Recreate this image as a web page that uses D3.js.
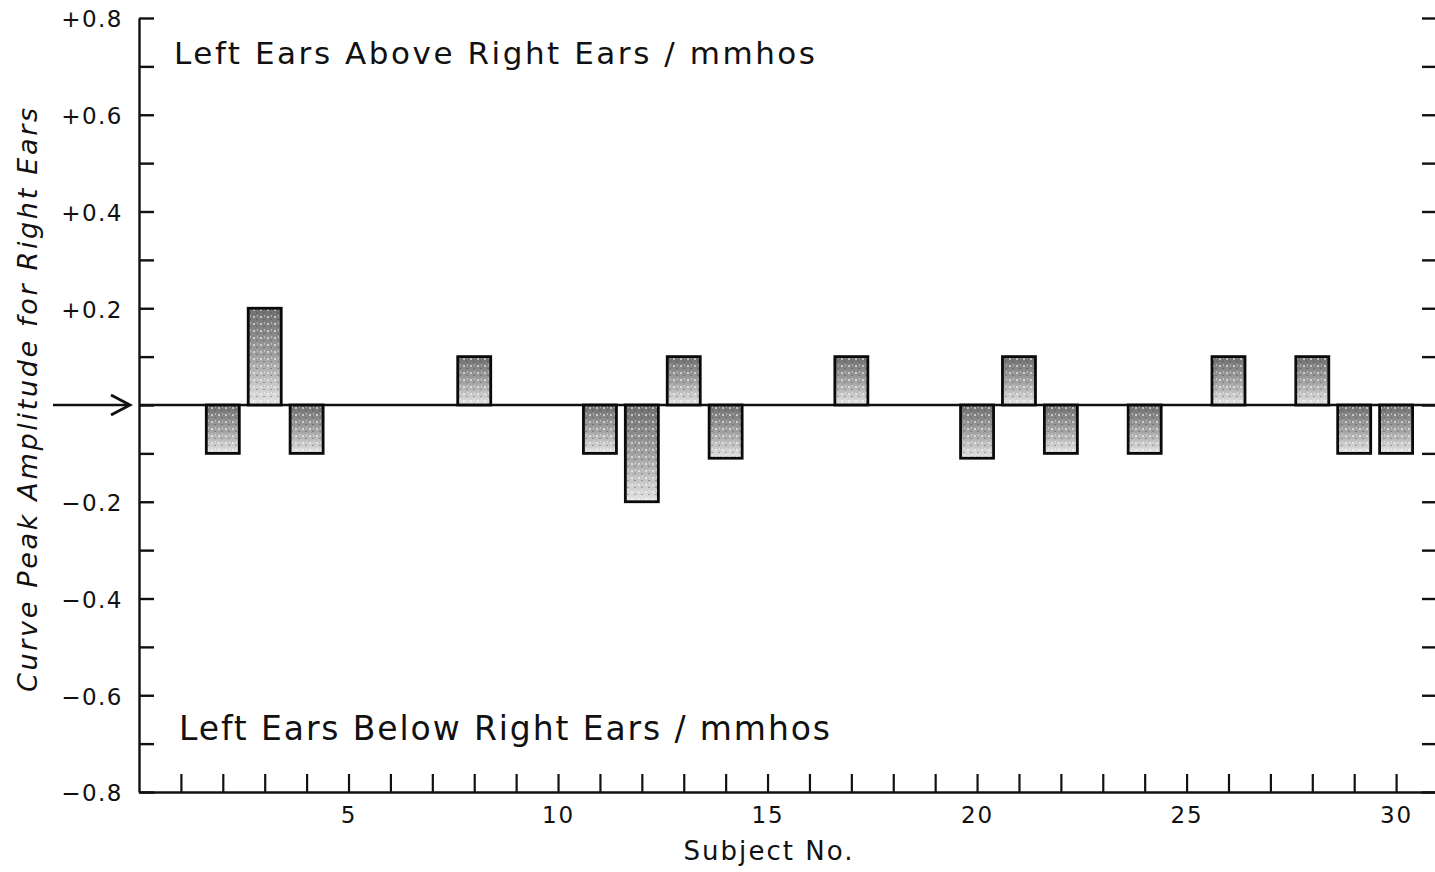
<!DOCTYPE html>
<html>
<head>
<meta charset="utf-8">
<script src="https://cdn.jsdelivr.net/npm/d3@7"></script>
<style>
  body { margin: 0; background: #fff; }
  svg { display: block; }
</style>
</head>
<body>
<div id="chart"></div>
<script>
// Dados
const subjects = d3.range(1, 31);
const differences = [
  0, -0.1, 0.2, -0.1, 0, 0, 0, 0.1, 0, 0,
  -0.1, -0.2, 0.1, -0.11, 0, 0, 0.1, 0, 0, -0.11,
  0.1, -0.1, 0, -0.1, 0, 0.1, 0, 0.1, -0.1, -0.1
];
const yTickValues = d3.range(-8, 9).map(d => d / 10);
const yLabelValues = [0.8, 0.6, 0.4, 0.2, -0.2, -0.4, -0.6, -0.8];
const yLabelTexts = ["+0.8", "+0.6", "+0.4", "+0.2", "\u22120.2", "\u22120.4", "\u22120.6", "\u22120.8"];
const xLabelValues = [5, 10, 15, 20, 25, 30];

const dados = subjects.map((s, i) => ({ subject: s, value: differences[i] }));

const largura = 1435;
const altura = 872;
const fonte = "'DejaVu Sans', sans-serif";

const svg = d3.select("#chart").append("svg")
  .attr("width", largura)
  .attr("height", altura);

// Textura das barras
const defs = svg.append("defs");
const grad = defs.append("linearGradient")
  .attr("id", "barGrad").attr("x1", 0).attr("y1", 0).attr("x2", 0).attr("y2", 1);
grad.append("stop").attr("offset", "0%").attr("stop-color", "#6e6e6e");
grad.append("stop").attr("offset", "55%").attr("stop-color", "#a6a6a6");
grad.append("stop").attr("offset", "100%").attr("stop-color", "#e4e4e4");

const pat = defs.append("pattern")
  .attr("id", "stipple").attr("width", 7).attr("height", 7)
  .attr("patternUnits", "userSpaceOnUse");
pat.append("rect").attr("x", 1).attr("y", 1).attr("width", 2).attr("height", 2).attr("fill", "#fff").attr("opacity", 0.55);
pat.append("rect").attr("x", 4).attr("y", 4).attr("width", 2).attr("height", 1).attr("fill", "#333").attr("opacity", 0.35);
pat.append("rect").attr("x", 5).attr("y", 0).attr("width", 1).attr("height", 2).attr("fill", "#fff").attr("opacity", 0.4);

// Escalas
const x = d3.scaleLinear().domain([0, 31]).range([139, 1438]);
const y = d3.scaleLinear().domain([-0.8, 0.8]).range([792, 18]);
const barW = 33;

// Eixo esquerdo
const yAxisLeft = svg.append("g")
  .attr("transform", "translate(139,0)")
  .call(d3.axisLeft(y)
    .tickValues(yTickValues)
    .tickSizeInner(-15).tickSizeOuter(0)
    .tickPadding(16)
    .tickFormat(v => {
      const i = yLabelValues.findIndex(l => Math.abs(l - v) < 1e-6);
      return i >= 0 ? yLabelTexts[i] : "";
    }));
yAxisLeft.selectAll("line").attr("stroke", "#111").attr("stroke-width", 2.4);
yAxisLeft.select(".domain").attr("stroke", "#111").attr("stroke-width", 2.4);
yAxisLeft.selectAll("text")
  .attr("font-family", fonte).attr("font-size", 23).attr("fill", "#111")
  .attr("letter-spacing", 1.5)
  .attr("dy", "0.38em");

// Eixo direito (somente marcas)
const yAxisRight = svg.append("g")
  .attr("transform", "translate(1439,0)")
  .call(d3.axisLeft(y).tickValues(yTickValues).tickSizeInner(17).tickSizeOuter(0).tickFormat(""));
yAxisRight.selectAll("line").attr("stroke", "#111").attr("stroke-width", 2.4);
yAxisRight.select(".domain").remove();

// Eixo inferior
const xAxis = svg.append("g")
  .attr("transform", "translate(0,792)")
  .call(d3.axisBottom(x)
    .tickValues(subjects)
    .tickSizeInner(-18).tickSizeOuter(0)
    .tickPadding(15)
    .tickFormat(v => xLabelValues.includes(v) ? String(v) : ""));
xAxis.selectAll("line").attr("stroke", "#111").attr("stroke-width", 2.2);
xAxis.select(".domain").attr("stroke", "#111").attr("stroke-width", 2.4);
xAxis.selectAll("text")
  .attr("font-family", fonte).attr("font-size", 23).attr("fill", "#111")
  .attr("letter-spacing", 2);

// Linha do zero
svg.append("line")
  .attr("x1", x(0)).attr("x2", largura)
  .attr("y1", y(0)).attr("y2", y(0))
  .attr("stroke", "#111").attr("stroke-width", 2.5);

// Seta
svg.append("line")
  .attr("x1", 53).attr("x2", 129)
  .attr("y1", y(0)).attr("y2", y(0))
  .attr("stroke", "#111").attr("stroke-width", 2.5);
svg.append("path")
  .attr("d", `M111,${y(0) - 10} L130,${y(0)} L111,${y(0) + 10}`)
  .attr("fill", "none").attr("stroke", "#111").attr("stroke-width", 2.8);

// Barras
const barras = svg.selectAll(".bar")
  .data(dados.filter(d => d.value !== 0))
  .enter().append("g").attr("class", "bar");
barras.append("rect")
  .attr("x", d => x(d.subject) - barW / 2)
  .attr("y", d => y(Math.max(0, d.value)))
  .attr("width", barW)
  .attr("height", d => Math.abs(y(d.value) - y(0)))
  .attr("fill", "url(#barGrad)")
  .attr("stroke", "#0a0a0a").attr("stroke-width", 2.8);
barras.append("rect")
  .attr("x", d => x(d.subject) - barW / 2 + 1.5)
  .attr("y", d => y(Math.max(0, d.value)) + 1.5)
  .attr("width", barW - 3)
  .attr("height", d => Math.abs(y(d.value) - y(0)) - 3)
  .attr("fill", "url(#stipple)");

// Textos
svg.append("text")
  .attr("x", 174).attr("y", 64)
  .attr("font-family", fonte).attr("font-size", 31).attr("fill", "#111")
  .attr("textLength", 641).attr("lengthAdjust", "spacing")
  .text("Left Ears Above Right Ears / mmhos");

svg.append("text")
  .attr("x", 179).attr("y", 740)
  .attr("font-family", fonte).attr("font-size", 33).attr("fill", "#111")
  .attr("textLength", 651).attr("lengthAdjust", "spacing")
  .text("Left Ears Below Right Ears / mmhos");

svg.append("text")
  .attr("transform", "translate(37,400) rotate(-90)")
  .attr("text-anchor", "middle")
  .attr("font-family", fonte).attr("font-size", 27).attr("font-style", "italic").attr("fill", "#111")
  .attr("textLength", 584).attr("lengthAdjust", "spacing")
  .text("Curve Peak Amplitude for Right Ears");

svg.append("text")
  .attr("x", 768).attr("y", 860)
  .attr("text-anchor", "middle")
  .attr("font-family", fonte).attr("font-size", 26).attr("fill", "#111")
  .attr("textLength", 169).attr("lengthAdjust", "spacing")
  .text("Subject No.");
</script>
</body>
</html>
